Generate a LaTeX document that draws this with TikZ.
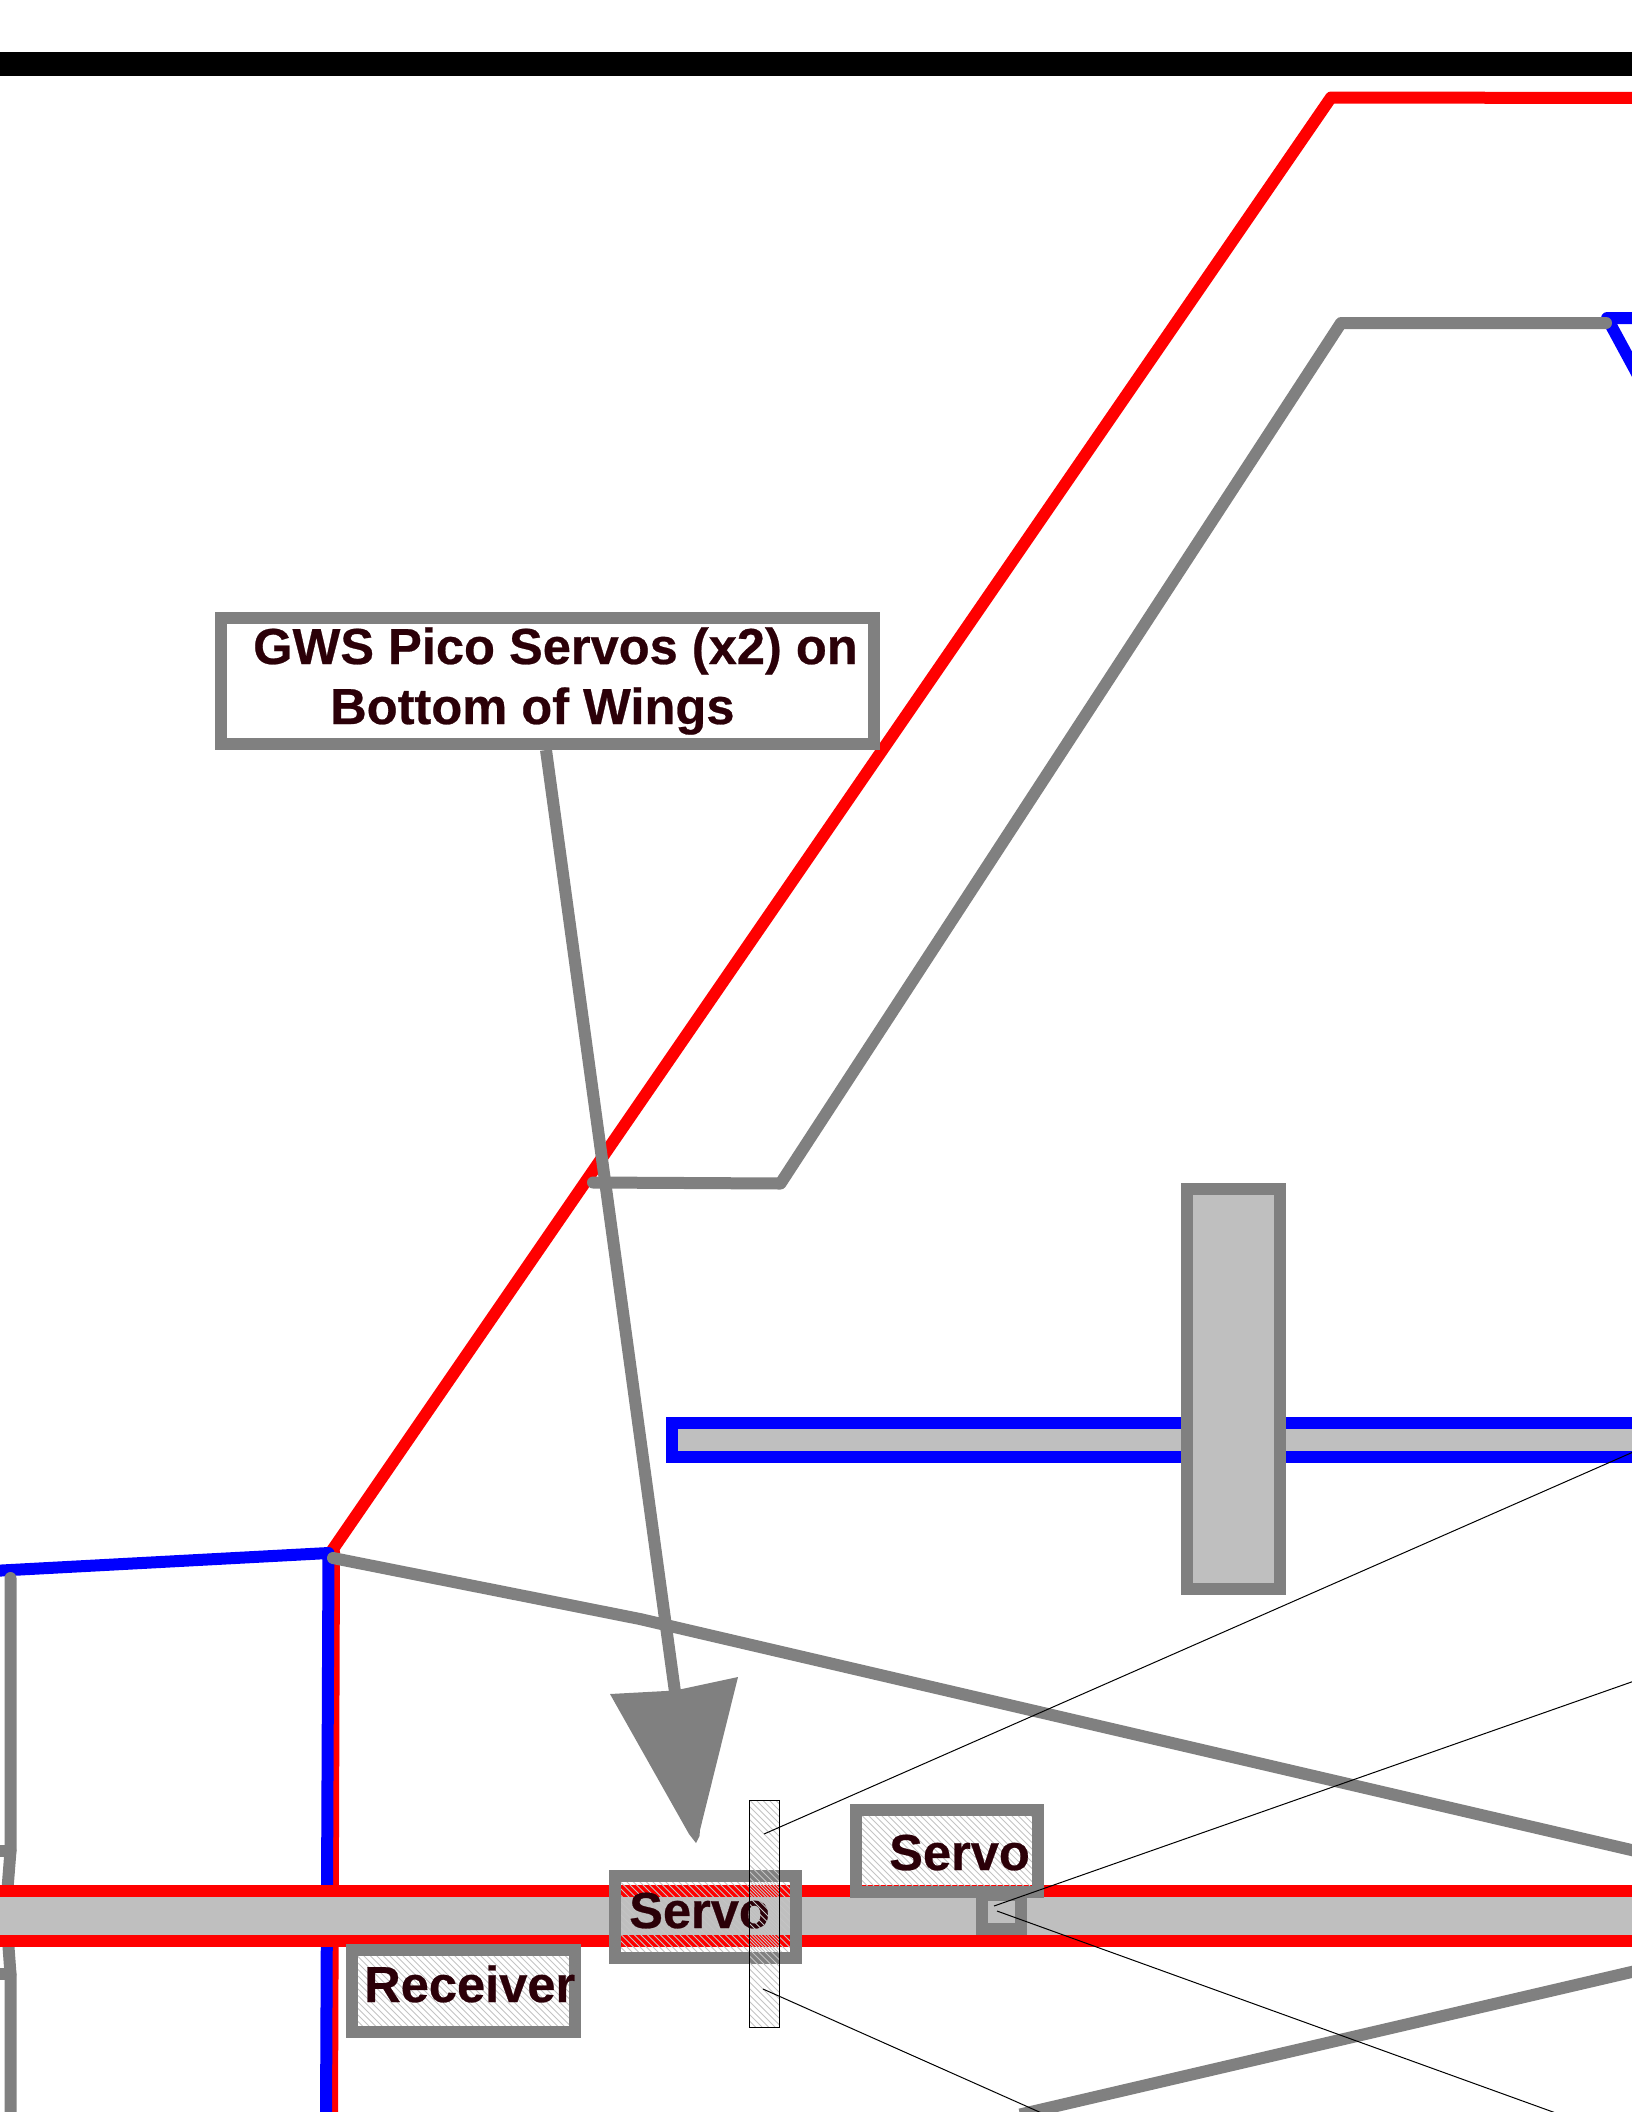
\documentclass[tikz,border=0pt]{standalone}
\usepackage{fontspec}
\setmainfont[BoldFeatures={FakeBold=0.5}]{Liberation Sans}
\definecolor{linegray}{HTML}{808080}
\definecolor{barfill}{HTML}{BFBFBF}
\definecolor{hatchgray}{HTML}{C4C4C4}
\definecolor{inktext}{HTML}{2B0008}
\newcommand{\hatcharea}[4]{%
  \begin{scope}
    \clip (#1,#2) rectangle (#3,#4);
    \foreach \hx in {0,6.5,...,330} {
      \draw[hatchgray,line width=1pt] ({#1+\hx},#4) -- ++(-240,-240);
    }
  \end{scope}}
\tikzset{
  wide/.style={line width=12pt,line cap=round,line join=round},
  grayline/.style={wide,draw=linegray},
  redline/.style={wide,draw=red},
  blueline/.style={wide,draw=blue},
  thinline/.style={draw=black,line width=1pt},
  boxshape/.style={rectangle,draw=linegray,line width=12pt,inner sep=0pt,outer sep=0pt},
  caption/.style={font=\fontsize{50.6}{60}\selectfont\bfseries,text=inktext,inner sep=0pt,anchor=base west},
}
\begin{document}
\begin{tikzpicture}[x=1pt,y=-1pt]
\useasboundingbox[fill=white] (0,0) rectangle (1632,2112);

% top bar
\fill[black] (0,52) rectangle (1632,76);

% wing outlines
\coordinate (wingroot) at (331,1552);
\coordinate (wingtip) at (1331,97.5);
\coordinate (wingend) at (1640,98);
\draw[redline] (wingroot) -- (wingtip) -- (wingend);

\coordinate (redtop) at (334,1552);
\coordinate (redbot) at (332,2120);
\draw[redline] (redtop) -- (redbot);

\coordinate (fusleft) at (-8,1571);
\coordinate (fuscorner) at (328.5,1553);
\coordinate (fusbot) at (326,2120);
\draw[blueline] (fusleft) -- (fuscorner) -- (fusbot);

\coordinate (tailA) at (1640,318);
\coordinate (tailB) at (1607,318);
\coordinate (tailC) at (1640,379);
\draw[blueline] (tailA) -- (tailB) -- (tailC);

% aileron/flap line
\coordinate (flapA) at (593,1182.5);
\coordinate (flapB) at (780.5,1183.5);
\coordinate (flapC) at (1341,323);
\coordinate (flapD) at (1606,323);
\draw[grayline] (flapA) -- (flapB) -- (flapC) -- (flapD);

% left edge
\coordinate (leftA) at (10.5,1578);
\coordinate (leftB) at (10.5,1851);
\coordinate (leftC) at (7,1895);
\coordinate (leftD) at (8,1940);
\coordinate (leftE) at (10.5,1974);
\coordinate (leftF) at (10.5,2120);
\coordinate (stubA) at (-6,1851);
\coordinate (stubB) at (-6,1974);
\draw[grayline] (leftA) -- (leftB) -- (leftC);
\draw[grayline] (stubA) -- (leftB);
\draw[grayline] (leftD) -- (leftE) -- (leftF);
\draw[grayline] (stubB) -- (leftE);

% tail-plane bar
\fill[barfill] (671.5,1422.5) rectangle (1640,1456.5);
\draw[blue,line width=12pt,line join=miter] (1640,1422.5) -- (671.5,1422.5) -- (671.5,1456.5) -- (1640,1456.5);

% fin
\node[boxshape,fill=barfill,minimum width=93.5pt,minimum height=400.5pt] (fin) at (1233.5,1389) {};

% long diagonals
\coordinate (diagA) at (333,1558);
\coordinate (diagB) at (640,1619);
\coordinate (diagC) at (1640,1852);
\draw[grayline] (diagA) -- (diagB) -- (diagC);
\coordinate (lowA) at (1020,2114.5);
\coordinate (lowB) at (1640,1970);
\draw[grayline,line cap=butt] (lowA) -- (lowB);

% wing bar
\fill[barfill] (-5,1891) rectangle (1640,1940.5);
\draw[red,line width=12pt] (-5,1891) -- (1640,1891);
\draw[red,line width=12pt] (-5,1940.5) -- (1640,1940.5);

% servo link square
\node[boxshape,fill=barfill,minimum width=39.5pt,minimum height=34.5pt] (link) at (1001.5,1912) {};

% hatched boxes
\hatcharea{620}{1882}{791}{1953}
\hatcharea{861}{1815}{1032}{1886}
\hatcharea{357}{1955}{569}{2027}
\node[boxshape,minimum width=181.5pt,minimum height=82.5pt] (servoA) at (705.5,1917) {};
\node[boxshape,minimum width=182.5pt,minimum height=82.5pt] (servoB) at (947,1851) {};
\node[boxshape,minimum width=223.5pt,minimum height=82.5pt] (receiver) at (463.5,1991) {};
\node[caption] (servoAtext) at (629,1928) {Servo};
\node[caption] (servoBtext) at (889,1870) {Servo};
\node[caption] (receivertext) at (364,2002) {Receiver};

% control horn strip
\hatcharea{749}{1800}{779}{2027}
\node[rectangle,draw=black,line width=1pt,inner sep=0pt,outer sep=0pt,minimum width=30pt,minimum height=227pt] (horn) at (764,1913.5) {};

% thin pushrods
\coordinate (rodAa) at (764,1834);
\coordinate (rodAb) at (1640,1449);
\coordinate (rodBa) at (994,1906);
\coordinate (rodBb) at (1640,1679);
\coordinate (rodCa) at (997,1911);
\coordinate (rodCb) at (1560,2114.5);
\coordinate (rodDa) at (763,1989);
\coordinate (rodDb) at (1045,2114.5);
\draw[thinline] (rodAa) -- (rodAb);
\draw[thinline] (rodBa) -- (rodBb);
\draw[thinline] (rodCa) -- (rodCb);
\draw[thinline] (rodDa) -- (rodDb);

% callout arrow
\coordinate (calloutstart) at (546,750);
\coordinate (calloutend) at (675,1692);
\draw[linegray,line width=12pt] (calloutstart) -- (calloutend);
\coordinate (headL) at (610,1694);
\coordinate (headM) at (675,1690.5);
\coordinate (headR) at (738,1677);
\coordinate (headT) at (696,1843);
\fill[linegray] (headL) -- (headM) -- (headR) -- (700,1830) -- (699.5,1836) -- (headT) -- (689,1834) -- cycle;

% note
\node[boxshape,fill=white,minimum width=653pt,minimum height=126pt] (note) at (547.8,681.3) {};
\node[caption] (noteA) at (253,664) {GWS Pico Servos (x2) on};
\node[caption] (noteB) at (330,724) {Bottom of Wings};
\end{tikzpicture}
\end{document}
